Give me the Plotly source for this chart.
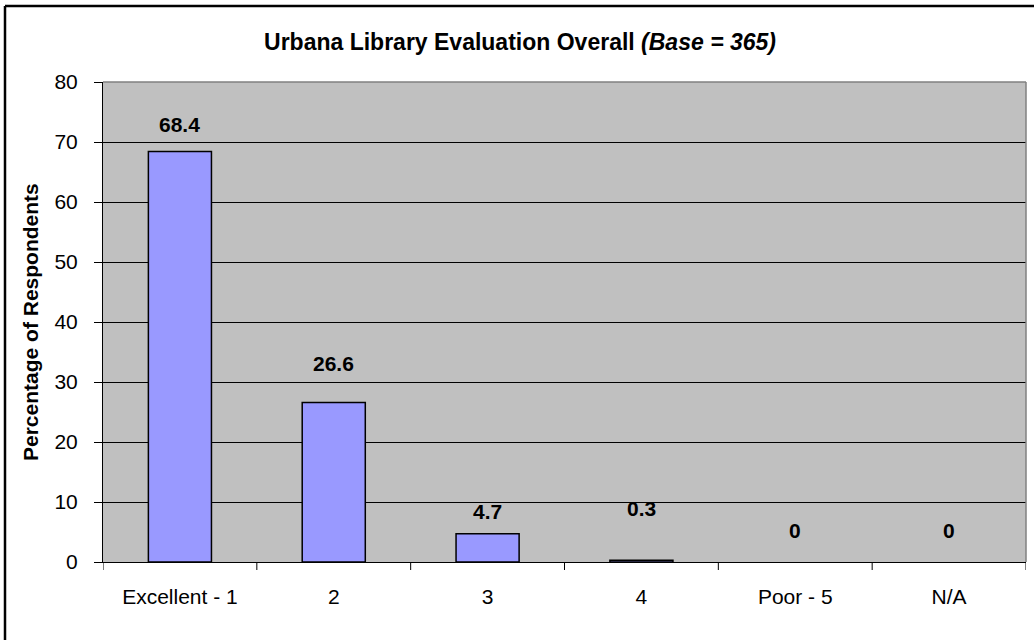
import plotly.graph_objects as go

categories = ["Excellent - 1", "2", "3", "4", "Poor - 5", "N/A"]
values = [68.4, 26.6, 4.7, 0.3, 0, 0]
value_labels = ["68.4", "26.6", "4.7", "0.3", "0", "0"]
y_ticks = [0, 10, 20, 30, 40, 50, 60, 70, 80]

label_shift = [27, 39, 22, 52, 32, 32]

FONT = "Liberation Sans, Arial, sans-serif"
W, H = 1034, 640
L, R, T, B = 103, 8, 82, 78
PW, PH = W - L - R, H - T - B

fig = go.Figure()
fig.add_trace(go.Bar(
    x=list(range(len(categories))), y=values, width=0.41,
    marker=dict(color="#9999FF",
                line=dict(color="black", width=[1.5 if v > 0 else 0 for v in values])),
    hovertext=categories, hoverinfo="text+y",
))

for i, (v, t, s) in enumerate(zip(values, value_labels, label_shift)):
    fig.add_annotation(x=i, y=v, text="<b>%s</b>" % t, showarrow=False,
                       yshift=s, font=dict(family=FONT, size=21, color="black"))

fig.update_layout(
    width=W, height=H,
    margin=dict(l=L, r=R, t=T, b=B),
    paper_bgcolor="white", plot_bgcolor="#C0C0C0",
    showlegend=False,
    font=dict(family=FONT, color="black"),
    title=dict(text="<b>Urbana Library Evaluation Overall <i>(Base = 365)</i></b>",
               x=520 / W, xanchor="center", y=1 - 42 / H, yanchor="middle",
               font=dict(family=FONT, size=23, color="black")),
)
fig.update_xaxes(
    range=[-0.5, len(categories) - 0.5],
    tickmode="array", tickvals=list(range(len(categories))), ticktext=categories,
    ticks="", showline=True, linecolor="black", linewidth=1,
    tickfont=dict(family=FONT, size=21, color="black"), showgrid=False,
    zeroline=False, automargin=False, ticklabelstandoff=16,
)
fig.update_yaxes(
    range=[0, 80], tickvals=y_ticks, ticks="outside", ticklen=8,
    tickcolor="black", showline=True, linecolor="black", linewidth=1,
    gridcolor="black", gridwidth=1, zeroline=False, automargin=False,
    tickfont=dict(family=FONT, size=21, color="black"), ticklabelstandoff=12,
)
# category boundary ticks below the x axis
for k in range(len(categories) + 1):
    fig.add_shape(type="line", xref="x", yref="paper", x0=k - 0.5, x1=k - 0.5,
                  y0=0, y1=-8 / PH, line=dict(color="black", width=1))
# y-axis title
fig.add_annotation(xref="paper", yref="paper", x=(30 - L) / PW, y=0.5,
                   text="<b>Percentage of Respondents</b>", textangle=-90,
                   showarrow=False, xanchor="center", yanchor="middle",
                   font=dict(family=FONT, size=21, color="black"))
# gray plot-area frame (top and right)
fig.add_shape(type="line", xref="paper", yref="paper", x0=0, x1=1, y0=1, y1=1,
              line=dict(color="#808080", width=1.5))
fig.add_shape(type="line", xref="paper", yref="paper", x0=1, x1=1, y0=0, y1=1,
              line=dict(color="#808080", width=1.5))
# outer chart frame (left and top edges visible)
fx = (5 - L) / PW
fy = 1 + (T - 6) / PH
fig.add_shape(type="line", xref="paper", yref="paper",
              x0=fx, x1=fx, y0=-2, y1=fy, line=dict(color="black", width=2.5))
fig.add_shape(type="line", xref="paper", yref="paper",
              x0=fx, x1=2, y0=fy, y1=fy, line=dict(color="black", width=2.5))

fig.write_html("out.html", config={"displayModeBar": False},
               post_script="document.body.style.margin='0';document.body.style.overflow='hidden';")
